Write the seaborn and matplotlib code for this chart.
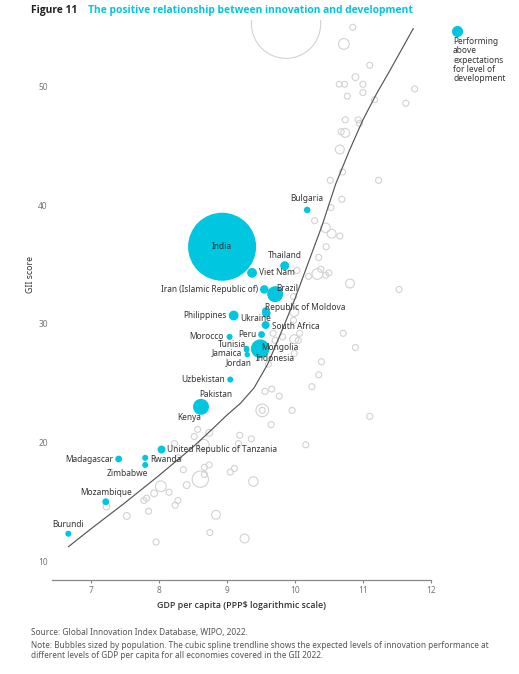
import matplotlib
matplotlib.use("Agg")
import matplotlib.pyplot as plt
import seaborn as sns
import pandas as pd

# Economies performing above expectations (highlighted)
names = ["India", "Bulgaria", "Thailand", "Viet Nam", "Iran (Islamic Republic of)", "Brazil",
         "Republic of Moldova", "Ukraine", "Philippines", "South Africa", "Peru", "Morocco",
         "Tunisia", "Mongolia", "Indonesia", "Jamaica", "Jordan", "Uzbekistan", "Pakistan",
         "Kenya", "United Republic of Tanzania", "Madagascar", "Rwanda", "Zimbabwe",
         "Mozambique", "Burundi"]
hi_gdp = [8.93, 10.18, 9.85, 9.37, 9.55, 9.71, 9.57, 9.58, 9.10, 9.57, 9.51, 9.04,
          9.29, 9.46, 9.49, 9.29, 9.30, 9.05, 8.62, 8.61, 8.04, 7.41, 7.80, 7.80, 7.22, 6.67]
hi_gii = [36.5, 39.6, 34.9, 34.3, 32.9, 32.5, 31.1, 30.9, 30.7, 29.9, 29.1, 28.9,
          27.9, 28.0, 27.9, 27.8, 27.4, 25.3, 23.0, 22.8, 19.4, 18.6, 18.7, 18.1, 15.0, 12.3]
hi_pop = [1400, 13, 24, 29, 22, 77, 15, 22, 29, 19, 14, 11,
          10, 10, 105, 9, 9, 11, 77, 20, 19, 14, 11, 11, 14, 11]

# All other economies (grey outlines)
oth_gdp = [9.87, 10.85, 10.72, 11.10, 10.89, 10.65, 10.73, 11.00, 11.00, 10.77, 11.17, 11.76,
           11.63, 10.74, 10.93, 10.95, 10.68, 10.74, 10.66, 10.70, 10.52, 11.23, 10.69, 10.53,
           10.29, 10.45, 10.54, 10.66, 10.46, 10.35, 10.03, 10.33, 10.38, 10.20, 10.45, 10.50,
           10.81, 11.53, 9.98, 9.99, 9.98, 10.07, 9.68, 10.71, 9.99, 10.05, 9.71, 9.82, 10.89,
           9.99, 10.39, 9.61, 10.35, 10.25, 9.56, 9.66, 9.77, 9.52, 9.52, 9.96, 11.10, 9.65,
           8.57, 8.52, 8.74, 9.19, 9.36, 9.17, 10.16, 8.23, 8.29, 8.66, 8.36, 8.67, 8.74, 8.67,
           8.61, 9.11, 9.05, 9.39, 8.41, 8.03, 8.15, 7.93, 7.82, 7.78, 8.28, 8.24, 7.85, 7.53,
           7.23, 8.84, 8.75, 7.96, 9.26]
oth_gii = [55.3, 55.0, 53.6, 51.8, 50.8, 50.2, 50.2, 50.2, 49.5, 49.2, 48.9, 49.8,
           48.6, 47.2, 47.2, 46.9, 46.2, 46.1, 44.7, 42.8, 42.1, 42.1, 40.5, 39.8,
           38.7, 38.1, 37.6, 37.4, 36.5, 35.6, 34.5, 34.2, 34.6, 34.0, 34.1, 34.3,
           33.4, 32.9, 32.3, 31.0, 30.3, 29.2, 29.2, 29.2, 28.7, 28.6, 28.6, 28.9, 28.0,
           27.5, 26.8, 26.6, 25.7, 24.7, 24.3, 24.5, 23.9, 22.7, 22.7, 22.7, 22.2, 21.5,
           21.1, 20.5, 20.8, 20.6, 20.3, 19.9, 19.8, 19.9, 18.7, 19.8, 17.7, 17.9, 18.1, 17.3,
           16.9, 17.8, 17.5, 16.7, 16.4, 16.3, 15.8, 15.7, 15.3, 15.1, 15.1, 14.7, 14.2, 13.8,
           14.6, 13.9, 12.4, 11.6, 11.9]
oth_pop = [1450, 11, 35, 11, 14, 10, 10, 11, 11, 11, 11, 11,
           11, 11, 11, 11, 11, 24, 24, 11, 11, 11, 11, 11,
           11, 27, 24, 11, 11, 11, 11, 35, 11, 11, 11, 11,
           24, 11, 11, 24, 11, 11, 11, 11, 24, 11, 11, 11, 11,
           11, 11, 11, 11, 11, 11, 11, 11, 48, 11, 11, 11, 11,
           11, 11, 14, 11, 11, 11, 11, 11, 11, 35, 11, 11, 11, 11,
           80, 11, 11, 27, 14, 35, 11, 14, 11, 11, 11, 11, 11, 14,
           14, 24, 11, 11, 24]

# Cubic spline trendline
trend_gdp = [6.67, 7.0, 7.5, 8.0, 8.5, 8.8, 9.0, 9.2, 9.4, 9.6, 9.8, 10.0,
             10.2, 10.4, 10.6, 10.8, 11.0, 11.2, 11.4, 11.74]
trend_gii = [11.2, 12.7, 14.9, 17.2, 19.6, 21.2, 22.3, 23.3, 24.6, 26.6, 29.3, 32.1,
             35.2, 38.3, 41.8, 44.6, 47.2, 49.4, 51.4, 54.9]

# label placement (px offsets from the bubble, alignment)
label_pos = {
    "India": (0, 0, "center"), "Bulgaria": (0, 11, "center"), "Thailand": (0, 10, "center"),
    "Viet Nam": (7, 0, "left"), "Iran (Islamic Republic of)": (-6, 0, "right"),
    "Brazil": (1, 6, "left"), "Republic of Moldova": (-1, 3.5, "left"),
    "Ukraine": (-11, -5, "center"), "Philippines": (-7, 0, "right"),
    "South Africa": (6, -1, "left"), "Peru": (-5, 0, "right"), "Morocco": (-5.5, 0, "right"),
    "Tunisia": (-1, 4, "right"), "Mongolia": (3, 0, "left"), "Indonesia": (15, -10, "center"),
    "Jamaica": (-4.5, -3, "right"), "Jordan": (-9, -7.5, "center"),
    "Uzbekistan": (-5.7, 0, "right"), "Pakistan": (15, 12.4, "center"),
    "Kenya": (-11.6, -8.4, "center"), "United Republic of Tanzania": (5.6, 0, "left"),
    "Madagascar": (-5, 0, "right"), "Rwanda": (4.7, -1.4, "left"),
    "Zimbabwe": (-17.5, -8.3, "center"), "Mozambique": (0, 9.6, "center"),
    "Burundi": (0, 9, "center"),
}

CYAN = "#00c6e0"
GREY = "#d2d2d2"

hi = pd.DataFrame({"name": names, "gdp": hi_gdp, "gii": hi_gii, "pop": hi_pop})
oth = pd.DataFrame({"gdp": oth_gdp, "gii": oth_gii, "pop": oth_pop})

sns.set_theme(style="white")
plt.rcParams["font.family"] = ["Noto Sans", "DejaVu Sans"]

fig = plt.figure(figsize=(5.19, 6.74), dpi=100)
ax = fig.add_axes([0.1002, 0.1395, 0.7302, 0.8305])

size_kw = dict(size="pop", sizes=(0, 2571), size_norm=(0, 1500), legend=False)

sns.scatterplot(data=oth, x="gdp", y="gii", facecolor="none", edgecolor=GREY,
                linewidth=0.8, ax=ax, zorder=2, **size_kw)
sns.lineplot(x=trend_gdp, y=trend_gii, color="#555555", linewidth=0.85, ax=ax, zorder=3)
sns.scatterplot(data=hi, x="gdp", y="gii", color=CYAN, edgecolor="none", linewidth=0,
                ax=ax, zorder=4, **size_kw)

for _, r in hi.iterrows():
    dx, dy, ha = label_pos[r["name"]]
    ax.annotate(r["name"], (r["gdp"], r["gii"]), xytext=(dx * 0.72, dy * 0.72),
                textcoords="offset points", ha=ha, va="center", fontsize=6.0,
                color="#333333", zorder=5)

ax.set_xlim(6.43, 12)
ax.set_ylim(8.4, 55.6)
ax.set_xticks([7, 8, 9, 10, 11, 12])
ax.set_yticks([10, 20, 30, 40, 50])
for s in ["top", "right", "left"]:
    ax.spines[s].set_visible(False)
ax.spines["bottom"].set_color("#888888")
ax.spines["bottom"].set_linewidth(0.9)
ax.tick_params(axis="x", length=2.5, width=0.8, color="#888888", labelsize=6.0,
               labelcolor="#777777", pad=2, bottom=True)
ax.tick_params(axis="y", length=0, labelsize=6.0, labelcolor="#777777", pad=3)

ax.set_xlabel("GDP per capita (PPP$ logarithmic scale)", fontsize=6.4,
              fontweight="semibold", family=["Open Sans", "DejaVu Sans"], color="#333333",
              labelpad=4)
ax.set_ylabel("GII score", fontsize=6.3, color="#333333")
ax.yaxis.set_label_coords(-0.045, 0.546)

fig.text(31 / 519, 1 - 10 / 674, "Figure 11", fontsize=7.4, fontweight="bold",
         family=["Open Sans", "DejaVu Sans"], color="#222222", va="center")
fig.text(88 / 519, 1 - 10 / 674, "The positive relationship between innovation and development",
         fontsize=7.4, fontweight="bold", family=["Open Sans", "DejaVu Sans"],
         color=CYAN, va="center")

# legend
ax.plot([457 / 519], [1 - 31 / 674], "o", color=CYAN, markersize=7, transform=fig.transFigure,
        clip_on=False)
fig.text(453 / 519, 1 - 37 / 674, "Performing\nabove\nexpectations\nfor level of\ndevelopment",
         fontsize=6.0, color="#333333", va="top", ha="left", linespacing=1.05)

fig.text(31 / 519, 1 - 633 / 674, "Source: Global Innovation Index Database, WIPO, 2022.",
         fontsize=6.0, color="#555555", va="center")
fig.text(31 / 519, 1 - 641 / 674,
         "Note: Bubbles sized by population. The cubic spline trendline shows the expected levels of innovation performance at\n"
         "different levels of GDP per capita for all economies covered in the GII 2022.",
         fontsize=5.95, color="#555555", va="top", linespacing=1.15)

fig.savefig("out.png", dpi=100)
